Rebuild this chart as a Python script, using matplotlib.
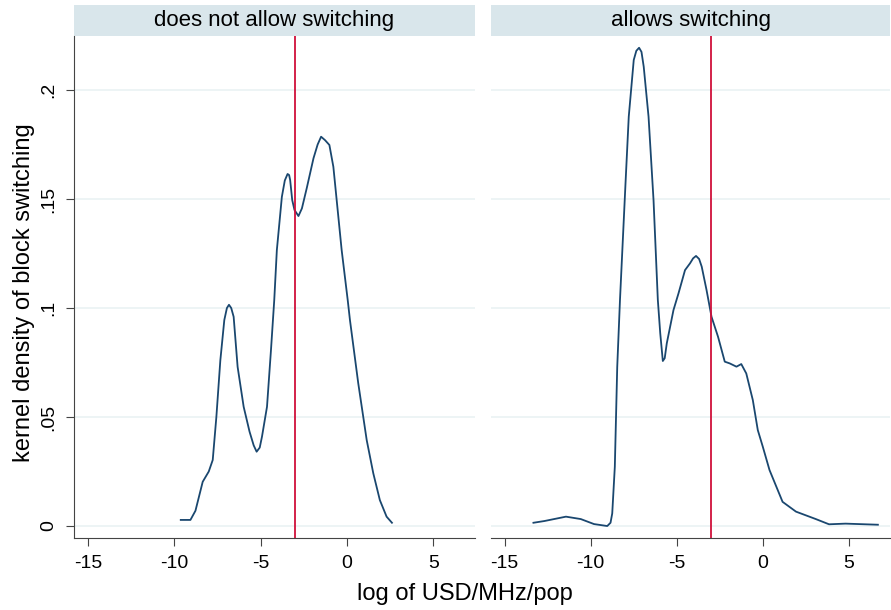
import numpy as np
import matplotlib.pyplot as plt

plt.rcParams['font.family'] = ['Liberation Sans', 'DejaVu Sans']
plt.rcParams['axes.unicode_minus'] = False

# kernel density, panel 1: does not allow switching
x_no = [-9.62, -9.06, -8.77, -8.35, -8.0, -7.77, -7.56, -7.33, -7.1, -6.95, -6.83, -6.7,
        -6.56, -6.33, -5.98, -5.64, -5.4, -5.23, -5.05, -4.92, -4.63, -4.4, -4.21, -4.06,
        -3.77, -3.6, -3.44, -3.35, -3.29, -3.17, -3.04, -2.81, -2.61, -2.33, -1.94, -1.7,
        -1.5, -1.27, -1.02, -0.79, -0.56, -0.31, 0.04, 0.17, 0.65, 1.14, 1.52, 1.9, 2.29, 2.6]
y_no = [0.0028, 0.0028, 0.007, 0.0203, 0.025, 0.0303, 0.050, 0.076, 0.0945, 0.1, 0.1015,
        0.1, 0.096, 0.073, 0.0547, 0.0433, 0.037, 0.0341, 0.036, 0.041, 0.0547, 0.0807,
        0.1037, 0.1266, 0.151, 0.1585, 0.1615, 0.161, 0.1587, 0.1495, 0.145, 0.1422, 0.1457,
        0.155, 0.1687, 0.175, 0.1786, 0.177, 0.1748, 0.1648, 0.1465, 0.1266, 0.1037, 0.0945,
        0.0655, 0.0394, 0.0242, 0.0119, 0.0043, 0.0015]

# panel 2: allows switching
x_yes = [-13.33, -12.69, -11.44, -10.58, -9.81, -9.04, -8.85, -8.75, -8.6, -8.46, -8.3,
         -7.98, -7.79, -7.5, -7.35, -7.19, -7.05, -6.92, -6.64, -6.35, -6.1, -5.96, -5.81,
         -5.7, -5.58, -5.19, -4.9, -4.52, -4.23, -4.05, -3.88, -3.7, -3.55, -3.27, -2.98,
         -2.6, -2.21, -1.92, -1.53, -1.25, -0.96, -0.58, -0.29, 0.0, 0.39, 1.15, 1.93, 3.08,
         3.85, 4.81, 6.69]
y_yes = [0.0015, 0.0023, 0.0043, 0.0032, 0.0009, 0.0, 0.0015, 0.0058, 0.0272, 0.073, 0.1037,
         0.157, 0.1878, 0.2138, 0.218, 0.2194, 0.2175, 0.2107, 0.1878, 0.1495, 0.1037, 0.0884,
         0.0757, 0.077, 0.0838, 0.0991, 0.1067, 0.1174, 0.1205, 0.1228, 0.1239, 0.1225, 0.119,
         0.1083, 0.096, 0.0868, 0.0754, 0.0746, 0.0731, 0.0743, 0.07, 0.0578, 0.044, 0.0364,
         0.0257, 0.0111, 0.0066, 0.0032, 0.0008, 0.0011, 0.0006]

panels = ['does not allow switching', 'allows switching']
cutoff = -3.0
xticks = [-15, -10, -5, 0, 5]
yticks = [0, 0.05, 0.1, 0.15, 0.2]
ylabels = ['0', '.05', '.1', '.15', '.2']

fig = plt.figure(figsize=(8.91, 6.10), dpi=100)
ax1 = fig.add_axes([0.083, 0.118, 0.450, 0.823])
ax2 = fig.add_axes([0.551, 0.118, 0.448, 0.823])

for ax, xs, ys, title in [(ax1, x_no, y_no, panels[0]), (ax2, x_yes, y_yes, panels[1])]:
    ax.set_xlim(-15.8, 7.4)
    ax.set_ylim(-0.0055, 0.2248)
    ax.set_yticks(yticks)
    ax.set_xticks(xticks)
    ax.grid(axis='y', color='#eaf2f3', linewidth=1.2)
    ax.set_axisbelow(True)
    ax.plot(xs, ys, color='#1a476f', linewidth=1.3, solid_joinstyle='round')
    ax.axvline(cutoff, color='#d0103a', linewidth=1.3)
    for s in ['top', 'right']:
        ax.spines[s].set_visible(False)
    ax.spines['bottom'].set_color('#444444')
    ax.spines['left'].set_color('#444444')
    ax.tick_params(axis='x', labelsize=14, length=6, color='#444444', pad=6)
    ax.tick_params(axis='y', labelsize=14, length=6, color='#444444', pad=6)
    # facet strip
    strip = plt.Rectangle((0, 1.0), 1.0, 31 / 502, transform=ax.transAxes,
                          facecolor='#d9e6eb', edgecolor='none', clip_on=False, zorder=0)
    ax.add_patch(strip)
    ax.text(0.5, 1.0 + 15.5 / 502, title, transform=ax.transAxes, ha='center', va='center',
            fontsize=16)

ax1.set_yticklabels(ylabels, rotation=90, va='center')
ax2.spines['left'].set_visible(False)
ax2.tick_params(axis='y', left=False, labelleft=False)

fig.text(0.522, 0.027, 'log of USD/MHz/pop', ha='center', va='center', fontsize=17)
fig.text(0.027, 0.52, 'kernel density of block switching', ha='center', va='center',
         rotation=90, fontsize=17)

fig.savefig('out.png', dpi=100)
